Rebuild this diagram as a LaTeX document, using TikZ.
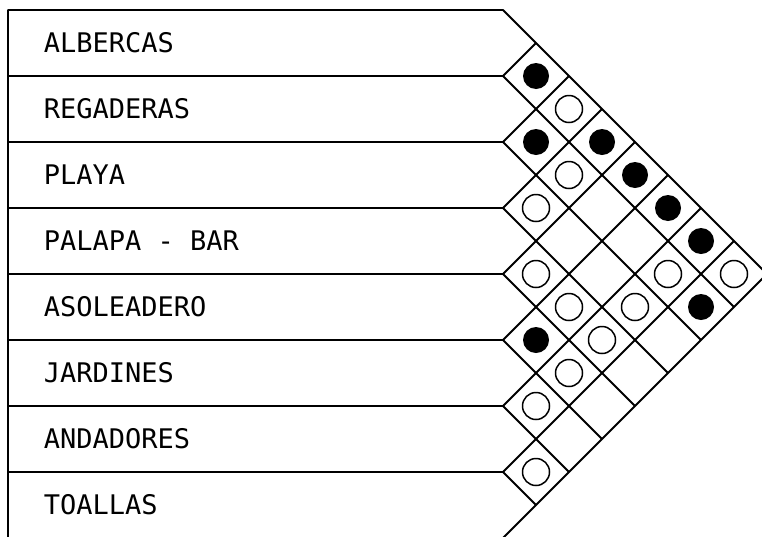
\documentclass[tikz,border=0pt]{standalone}
\usepackage{fontspec}
\setmonofont{DejaVu Sans Mono}
\usetikzlibrary{positioning}

\begin{document}
\begin{tikzpicture}[x=1pt,y=-1pt,line width=1.8pt,line join=round,
  lleno/.style={circle,fill=black,minimum size=26pt,inner sep=0pt},
  vacio/.style={circle,draw,line width=1.5pt,minimum size=27pt,inner sep=0pt}]
  \useasboundingbox (0,0) rectangle (762,536);

  % row labels
  \foreach \i/\lab in {1/ALBERCAS,2/REGADERAS,3/PLAYA,4/PALAPA - BAR,5/ASOLEADERO,6/JARDINES,7/ANDADORES,8/TOALLAS}{
    \node[font=\ttfamily\fontsize{27}{28}\selectfont,anchor=west,inner sep=0pt] (r\i) at (43,{10+66*\i-33}) {\lab};
  }

  % frame
  \coordinate (b0) at (503,10);
  \coordinate (apex) at (767,274);
  \draw (8,540) -- (8,10) -- (b0) -- (apex) -- ++(-266,266);

  % row lines and diagonal grid
  \foreach \k in {1,...,7}{
    \coordinate (b\k) at (503,{10+66*\k});
    \draw (8,{10+66*\k}) -- (b\k);
    \draw (b\k) -- ++({33*\k},{-33*\k});
    \draw (b\k) -- ++({33*(8-\k)},{33*(8-\k)});
  }

  % relations
  \foreach \i/\j in {1/2,1/4,1/5,1/6,1/7,2/3,2/8,5/6}
    \node[lleno] (c\i\j) at ({503+33*(\j-\i)},{10+33*(\i+\j-1)}) {};
  \foreach \i/\j in {1/3,1/8,2/4,2/7,3/4,3/7,4/5,4/6,4/7,5/7,6/7,7/8}
    \node[vacio] (c\i\j) at ({503+33*(\j-\i)},{10+33*(\i+\j-1)}) {};
\end{tikzpicture}
\end{document}
